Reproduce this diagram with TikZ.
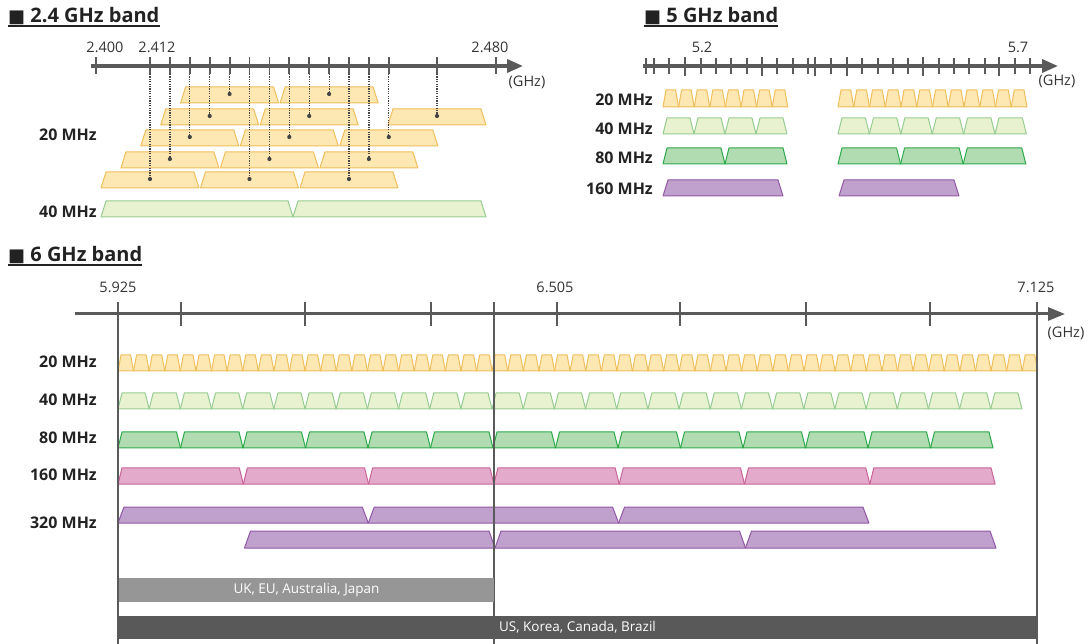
\documentclass[tikz,border=0pt]{standalone}
\usepackage{fontspec}
\setmainfont{Open Sans}
\newfontfamily\symf{DejaVu Sans}
\usetikzlibrary{arrows.meta}
\definecolor{txt}{HTML}{222222}
\definecolor{numc}{HTML}{333333}
\definecolor{axc}{HTML}{5A5A5A}
\definecolor{yf}{HTML}{FDE7B2}
\definecolor{yd}{HTML}{EFBF5C}
\definecolor{lgf}{HTML}{E8F2D0}
\definecolor{lgd}{HTML}{97CC90}
\definecolor{gf}{HTML}{B1DBB1}
\definecolor{gd}{HTML}{2EAA4C}
\definecolor{pkf}{HTML}{E3AACB}
\definecolor{pkd}{HTML}{C86497}
\definecolor{puf}{HTML}{C0A0CC}
\definecolor{pud}{HTML}{9159A6}
\definecolor{barA}{HTML}{969696}
\definecolor{barB}{HTML}{5A5959}
\definecolor{dotc}{HTML}{444444}
\newcommand{\tz}[6]{\filldraw[#6] ({#1},{#4}) -- ({#1+#5},{#3}) -- ({#2-#5},{#3}) -- ({#2},{#4}) -- cycle;}
\begin{document}
\begin{tikzpicture}[x=1pt,y=-1pt,
  c20/.style={fill=yf,draw=yd,line width=1pt,line join=round},
  c40/.style={fill=lgf,draw=lgd,line width=1pt,line join=round},
  c80/.style={fill=gf,draw=gd,line width=1pt,line join=round},
  cpk/.style={fill=pkf,draw=pkd,line width=1pt,line join=round},
  cpu/.style={fill=puf,draw=pud,line width=1pt,line join=round},
  axisline/.style={draw=axc,line width=3.5pt,-{Triangle[length=16pt,width=13pt]}},
  axisthin/.style={draw=axc,line width=3pt,-{Triangle[length=17pt,width=13pt]}},
  tickmark/.style={draw=axc,line width=1.8pt},
  bigline/.style={draw=axc,line width=2.5pt},
  conn/.style={draw=dotc,line width=1.2pt,dash pattern=on 1.2pt off 1.2pt},
  title/.style={anchor=base west,inner sep=0,font=\fontsize{20}{24}\selectfont\bfseries,text=txt},
  lab/.style={anchor=base east,inner sep=0,font=\fontsize{16}{18}\selectfont\bfseries,text=txt},
  num/.style={anchor=base,inner sep=0,font=\fontsize{14.5}{16}\selectfont,text=numc},
  barnode/.style={inner sep=0,text=white,font=\fontsize{13.5}{15}\selectfont},
]
\useasboundingbox (0,0) rectangle (1088,644);
\fill[white] (0,0) rectangle (1088,644);

% ===================== 2.4 GHz =====================
\node[title] (t24) at (8,23) {{\symf\fontsize{18}{18}\selectfont ■} 2.4 GHz band};
\draw[txt,line width=1.3pt] ([yshift=-3pt]t24.base west) -- ([yshift=-3pt]t24.base east);
\coordinate (a24s) at (91,66);
\coordinate (a24e) at (523,66);
\draw[axisline] (a24s) -- (a24e);
\foreach \x in {96,437,496} \draw[tickmark] (\x,57) -- (\x,74);
\foreach \i in {0,...,12} \draw[tickmark] ({150+19.9*\i},57) -- ({150+19.9*\i},74);
\node[num] (n2400) at (105,53) {2.400};
\node[num] (n2412) at (157,53) {2.412};
\node[num] (n2480) at (490,53) {2.480};
\node[num] (g24) at (527,87) {(GHz)};
% 20 MHz channels
\foreach \n/\x/\t in {1/150/172,2/169.9/152,3/189.8/130,4/209.7/109,5/229.6/87,6/249.5/172,7/269.4/152,8/289.3/130,9/309.2/109,10/329.1/87,11/349/172,12/368.9/152,13/388.8/130,14/437/109}{
  \tz{\x-49}{\x+49}{\t}{\t+16}{5}{c20}
}
\foreach \n/\x/\t in {1/150/172,2/169.9/152,3/189.8/130,4/209.7/109,5/229.6/87,6/249.5/172,7/269.4/152,8/289.3/130,9/309.2/109,10/329.1/87,11/349/172,12/368.9/152,13/388.8/130,14/437/109}{
  \coordinate (k\n) at (\x,74);
  \coordinate (d\n) at (\x,\t+7);
  \draw[conn] (k\n) -- (d\n);
  \fill[dotc] (d\n) circle (2.1pt);
}
% 40 MHz
\tz{101}{293}{201}{217}{5}{c40}
\tz{293}{486}{201}{217}{5}{c40}
\node[lab] (r24a) at (97,141) {20 MHz};
\node[lab] (r24b) at (97,218) {40 MHz};

% ===================== 5 GHz =====================
\node[title] (t5) at (644,23) {{\symf\fontsize{18}{18}\selectfont ■} 5 GHz band};
\draw[txt,line width=1.3pt] ([yshift=-3pt]t5.base west) -- ([yshift=-3pt]t5.base east);
\coordinate (a5s) at (643,66);
\coordinate (a5e) at (1058,66);
\draw[axisline] (a5s) -- (a5e);
\foreach \x in {646,654,669,701,716,731,747,777,793,808,831,862,878,893,908,939,954,969,985,1015,1030}
  \draw[tickmark] (\x,58) -- (\x,74);
\foreach \x in {685,762,815,847,923,999}
  \draw[tickmark] (\x,57) -- (\x,76);
\node[num] (n52) at (702,53) {5.2};
\node[num] (n57) at (1018,53) {5.7};
\node[num] (g5) at (1057,86) {(GHz)};
\foreach \i in {0,...,7}{\pgfmathsetmacro\a{663+15.6*\i}\pgfmathsetmacro\b{\a+15.6}\tz{\a}{\b}{90}{107}{3}{c20}}
\foreach \i in {0,...,11}{\pgfmathsetmacro\a{838+15.75*\i}\pgfmathsetmacro\b{\a+15.75}\tz{\a}{\b}{90}{107}{3}{c20}}
\foreach \i in {0,...,3}{\pgfmathsetmacro\a{663+31*\i}\pgfmathsetmacro\b{\a+31}\tz{\a}{\b}{118}{134}{4}{c40}}
\foreach \i in {0,...,5}{\pgfmathsetmacro\a{838+31.4*\i}\pgfmathsetmacro\b{\a+31.4}\tz{\a}{\b}{118}{134}{4}{c40}}
\foreach \i in {0,...,1}{\pgfmathsetmacro\a{663+62*\i}\pgfmathsetmacro\b{\a+62}\tz{\a}{\b}{148}{164}{4}{c80}}
\foreach \i in {0,...,2}{\pgfmathsetmacro\a{838+62.6*\i}\pgfmathsetmacro\b{\a+62.6}\tz{\a}{\b}{148}{164}{4}{c80}}
\tz{663}{783}{180}{196}{5}{cpu}
\tz{839}{959}{180}{196}{5}{cpu}
\node[lab] (r5a) at (653,106) {20 MHz};
\node[lab] (r5b) at (653,135) {40 MHz};
\node[lab] (r5c) at (653,164) {80 MHz};
\node[lab] (r5d) at (653,195) {160 MHz};

% ===================== 6 GHz =====================
\node[title] (t6) at (8,262) {{\symf\fontsize{18}{18}\selectfont ■} 6 GHz band};
\draw[txt,line width=1.3pt] ([yshift=-3pt]t6.base west) -- ([yshift=-3pt]t6.base east);
\coordinate (a6s) at (75,314);
\coordinate (a6e) at (1065,314);
\draw[axisthin] (a6s) -- (a6e);
\foreach \x in {181,305,431,557,680,806,930} \draw[tickmark] (\x,302) -- (\x,326);
\node[num] (n5925) at (118,293) {5.925};
\node[num] (n6505) at (555,293) {6.505};
\node[num] (n7125) at (1036,293) {7.125};
\node[num] (g6) at (1066,338) {(GHz)};
\foreach \i in {0,...,58}{\pgfmathsetmacro\a{118+15.59*\i}\pgfmathsetmacro\b{\a+15.59}\tz{\a}{\b}{355}{371}{3}{c20}}
\foreach \i in {0,...,28}{\pgfmathsetmacro\a{118+31.17*\i}\pgfmathsetmacro\b{\a+31.17}\tz{\a}{\b}{393}{409}{4}{c40}}
\foreach \i in {0,...,13}{\pgfmathsetmacro\a{118+62.5*\i}\pgfmathsetmacro\b{\a+62.5}\tz{\a}{\b}{432}{448}{4}{c80}}
\foreach \i in {0,...,6}{\pgfmathsetmacro\a{118+125.3*\i}\pgfmathsetmacro\b{\a+125.3}\tz{\a}{\b}{468}{484}{4}{cpk}}
\foreach \i in {0,...,2}{\pgfmathsetmacro\a{118+250.3*\i}\pgfmathsetmacro\b{\a+250.3}\tz{\a}{\b}{507}{523}{6}{cpu}}
\foreach \i in {0,...,2}{\pgfmathsetmacro\a{244.5+250.5*\i}\pgfmathsetmacro\b{\a+250.5}\tz{\a}{\b}{531}{548}{6}{cpu}}
\foreach \x/\nm in {118/va,494/vb,1037/vc}{
  \coordinate (\nm1) at (\x,302);
  \coordinate (\nm2) at (\x,644);
  \draw[bigline] (\nm1) -- (\nm2);
}
\node[lab] (r6a) at (97,368) {20 MHz};
\node[lab] (r6b) at (97,406) {40 MHz};
\node[lab] (r6c) at (97,444) {80 MHz};
\node[lab] (r6d) at (97,480) {160 MHz};
\node[lab] (r6e) at (97,528) {320 MHz};
\node[barnode,fill=barA,minimum width=375pt,minimum height=24pt] (uk) at (306.5,590) {UK, EU, Australia, Japan};
\node[barnode,fill=barB,minimum width=921pt,minimum height=23pt] (us) at (577.5,627.5) {US, Korea, Canada, Brazil};
\end{tikzpicture}
\end{document}
